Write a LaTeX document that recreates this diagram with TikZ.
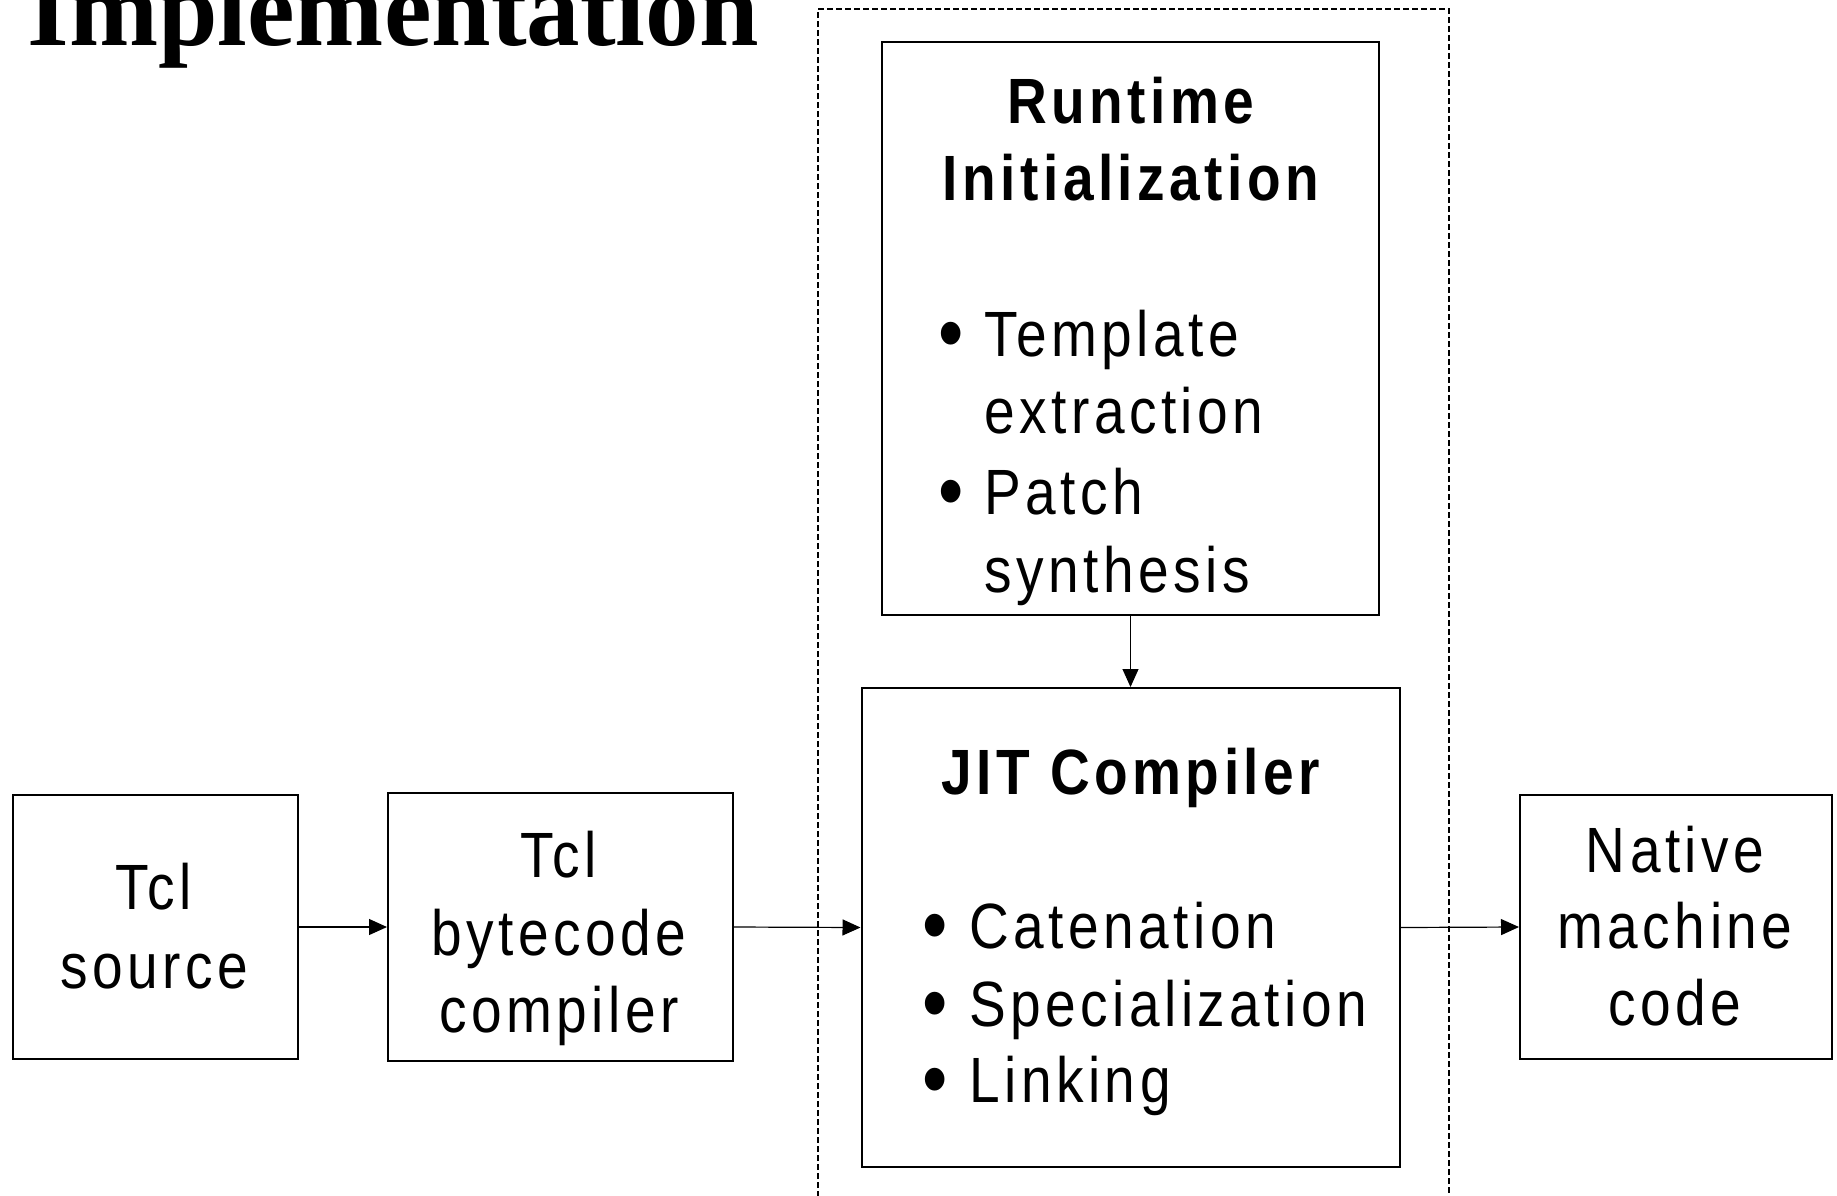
\documentclass[tikz,border=0pt]{standalone}
\usepackage{fontspec}
\setmainfont{Liberation Sans}
\newfontfamily\lblfont{Liberation Sans}[FakeStretch=0.86,LetterSpace=7]
\newfontfamily\titlefont{Liberation Serif}
\usetikzlibrary{arrows.meta}

\begin{document}
\begin{tikzpicture}[
  x=0.5pt, y=-0.5pt,
  box/.style={draw=black, line width=1pt, fill=none, inner sep=0pt},
  conn/.style={draw=black, line width=0.6pt, -{Triangle[length=9pt,width=8pt]}},
  frame/.style={draw=black, line width=0.6pt, dash pattern=on 3pt off 1.5pt},
  lbl/.style={inner sep=0pt, anchor=base, font=\lblfont\fontsize{32}{38}\selectfont},
  head/.style={inner sep=0pt, anchor=base, font=\lblfont\bfseries\fontsize{32}{38}\selectfont},
  item/.style={inner sep=0pt, anchor=base west, font=\lblfont\fontsize{32}{38}\selectfont},
  dot/.style={inner sep=0pt, anchor=base, font=\lblfont\fontsize{42}{46}\selectfont},
]
\useasboundingbox (0,0) rectangle (1837,1195);
\clip (0,0) rectangle (1837,1195);
\fill[white] (0,0) rectangle (1837,1195);

% slide heading, partly above the page edge
\node[inner sep=0pt, anchor=base west, font=\titlefont\bfseries\fontsize{53.5}{60}\selectfont]
  (title) at (27,45) {Implementation};

% dashed frame round the run-time part
\draw[frame] (818,1215) -- (818,9) -- (1449,9) -- (1449,1215);

% boxes
\node[box, minimum width=142.5pt, minimum height=132pt]   (src) at (155.5,927) {};
\node[box, minimum width=172.5pt, minimum height=134pt]   (bc)  at (560.5,927) {};
\node[box, minimum width=248.5pt, minimum height=286.5pt] (rt)  at (1130.5,328.5) {};
\node[box, minimum width=269pt,   minimum height=239.5pt] (jit) at (1130.5,927.5) {};
\node[box, minimum width=156pt,   minimum height=132pt]   (nat) at (1676,927) {};

% connectors
\draw[conn] (src.east) -- (bc.west);
\draw[conn] (bc.east) -- (jit.west);
\draw[conn] (jit.east) -- (nat.west);
\draw[conn] (rt.south) -- (jit.north);

% Tcl source
\node[lbl] (src1) at (154,909) {Tcl};
\node[lbl] (src2) at (154,988) {source};

% bytecode compiler
\node[lbl] (bc1) at (559,877) {Tcl};
\node[lbl] (bc2) at (559,955) {bytecode};
\node[lbl] (bc3) at (559,1032) {compiler};

% native code
\node[lbl] (nat1) at (1675,872) {Native};
\node[lbl] (nat2) at (1675,948) {machine};
\node[lbl] (nat3) at (1675,1025) {code};

% runtime initialization
\node[head] (rth1) at (1131,123) {Runtime};
\node[head] (rth2) at (1131,200) {Initialization};
\node[dot]  (rtd1) at (951,361) {•};
\node[item] (rti1) at (984,356) {Template};
\node[item] (rti2) at (984,433) {extraction};
\node[dot]  (rtd2) at (951,519) {•};
\node[item] (rti3) at (984,514) {Patch};
\node[item] (rti4) at (984,592) {synthesis};

% JIT compiler
\node[head] (jith) at (1131,794) {JIT Compiler};
\node[dot]  (jd1) at (935,953) {•};
\node[item] (ji1) at (969,948) {Catenation};
\node[dot]  (jd2) at (935,1031) {•};
\node[item] (ji2) at (969,1026) {Specialization};
\node[dot]  (jd3) at (935,1107) {•};
\node[item] (ji3) at (969,1102) {Linking};
\end{tikzpicture}
\end{document}
